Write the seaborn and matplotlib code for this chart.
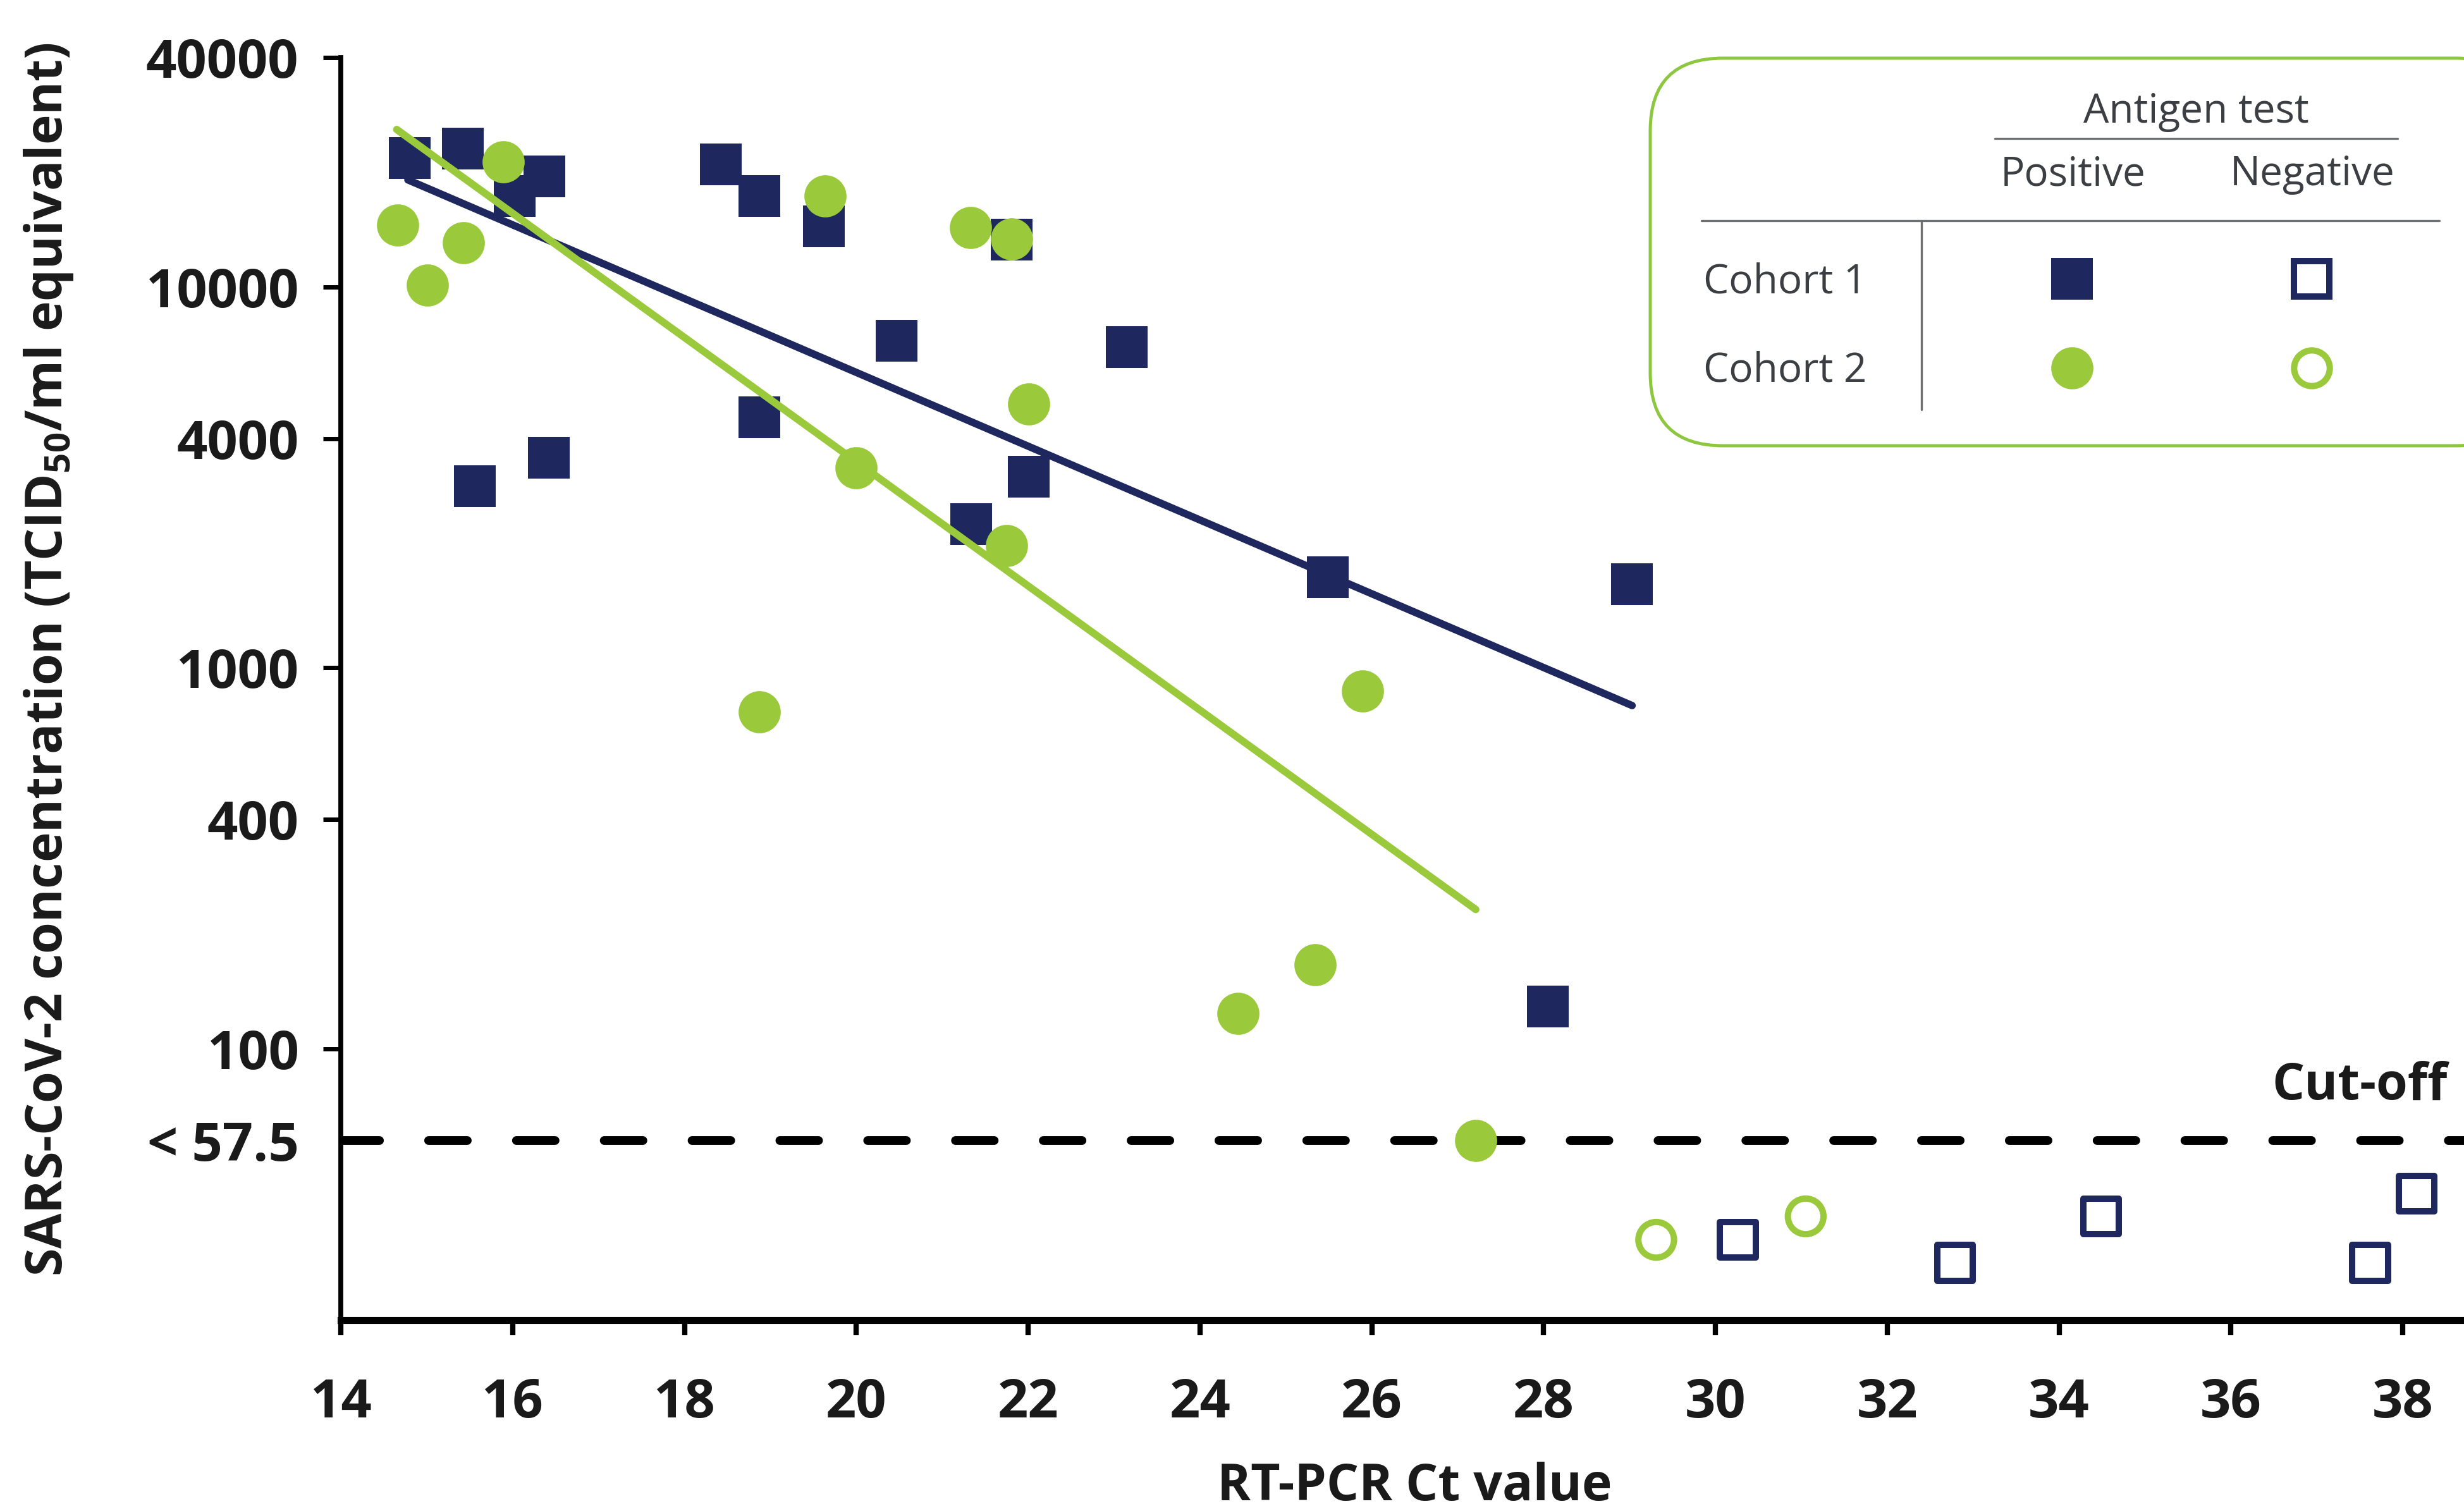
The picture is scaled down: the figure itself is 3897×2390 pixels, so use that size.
import numpy as np
import pandas as pd
import seaborn as sns
import matplotlib.pyplot as plt
from matplotlib.patches import FancyBboxPatch
from matplotlib.lines import Line2D
from matplotlib.ticker import NullLocator

# Cohort 1 (antigen test positive / negative)
c1_pos_ct = [14.80, 15.42, 16.02, 16.37, 18.42, 18.87, 19.62, 21.81, 20.47, 23.15,
             18.87, 15.56, 16.42, 22.01, 21.34, 25.49, 29.03, 28.05]
c1_pos_conc = [21800, 23100, 17300, 19500, 21000, 17300, 14400, 13300, 7230, 6940,
               4550, 3000, 3560, 3180, 2380, 1730, 1660, 129]
c1_neg_ct = [30.26, 32.79, 34.49, 37.62, 38.16]
c1_neg_conc = [31.5, 27.4, 36.3, 27.4, 41.6]

# Cohort 2 (antigen test positive / negative)
c2_pos_ct = [14.66, 15.43, 15.01, 15.89, 19.64, 21.33, 21.81, 20.00, 22.01, 21.75,
             18.87, 25.89, 25.34, 24.44, 27.21]
c2_pos_conc = [14550, 13060, 10110, 21330, 17330, 14320, 13340, 3350, 4920, 2095,
               767, 869, 166, 124, 57.5]
c2_neg_ct = [29.31, 31.05]
c2_neg_conc = [31.5, 36.3]

# regression lines (end points)
fit1_ct = [14.78, 29.03]
fit1_conc = [19100, 796]
fit2_ct = [14.65, 27.21]
fit2_conc = [25900, 232]

cutoff = 57.5
x_ticks = list(range(14, 39, 2))
y_ticks = [57.5, 100, 400, 1000, 4000, 10000, 40000]
y_labels = ['< 57.5', '100', '400', '1000', '4000', '10000', '40000']

navy = '#1e285e'
green = '#9aca3c'
box_green = '#8dc63f'
ink = '#1a1a1a'
grey_text = '#3b3e42'
rule = '#6d6e70'

sns.set_style('ticks')
plt.rcParams['font.family'] = ['Open Sans', 'DejaVu Sans']
plt.rcParams['mathtext.default'] = 'regular'

fig = plt.figure(figsize=(19.49, 11.95), dpi=200)
ax = fig.add_axes([0.1383, 0.1264, 0.8617, 0.8355])
ax.set_yscale('log')

sns.lineplot(x=fit1_ct, y=fit1_conc, ax=ax, color=navy, lw=4.2,
             solid_capstyle='round', zorder=2, errorbar=None)
sns.scatterplot(x=c1_pos_ct, y=c1_pos_conc, ax=ax, marker='s', s=24 ** 2,
                color=navy, linewidth=0, zorder=3)
sns.scatterplot(x=c1_neg_ct, y=c1_neg_conc, ax=ax, marker='s', s=20.3 ** 2,
                facecolor='none', edgecolor=navy, linewidth=3.6, zorder=3)
sns.lineplot(x=fit2_ct, y=fit2_conc, ax=ax, color=green, lw=4.2,
             solid_capstyle='round', zorder=4, errorbar=None)
sns.scatterplot(x=c2_pos_ct, y=c2_pos_conc, ax=ax, marker='o', s=24 ** 2,
                color=green, linewidth=0, zorder=5)
sns.scatterplot(x=c2_neg_ct, y=c2_neg_conc, ax=ax, marker='o', s=20.3 ** 2,
                facecolor='none', edgecolor=green, linewidth=3.6, zorder=5)

ax.axhline(cutoff, color='black', lw=5, dashes=(4.4, 5.6),
           dash_capstyle='round', zorder=1)
ax.text(0.992, 1.19 * cutoff, 'Cut-off', transform=ax.get_yaxis_transform(),
        ha='right', va='bottom', fontsize=29, fontweight='bold', color=ink)

ax.set_xlim(14, 38.72)
ax.set_ylim(19.4, 40000)
ax.set_xticks(x_ticks)
ax.set_xticklabels([str(t) for t in x_ticks], fontweight='bold')
ax.set_yticks(y_ticks)
ax.set_yticklabels(y_labels, fontweight='bold')
ax.yaxis.set_minor_locator(NullLocator())
ax.yaxis.get_major_ticks()[0].tick1line.set_visible(False)

ax.tick_params(axis='y', length=10, width=2.5, pad=14, labelsize=30.5,
               color='black', labelcolor=ink)
ax.tick_params(axis='x', length=8.5, width=3, pad=24, labelsize=30.5,
               color='black', labelcolor=ink)

ax.spines[['top', 'right']].set_visible(False)
ax.spines['left'].set_linewidth(2.8)
ax.spines['bottom'].set_linewidth(4)
ax.spines['left'].set_color('black')
ax.spines['bottom'].set_color('black')

ax.set_xlabel('RT-PCR Ct value', fontsize=29, fontweight='bold', color=ink)
ax.set_ylabel('SARS-CoV-2 concentration (TCID$_{50}$/ml equivalent)',
              fontsize=29, fontweight='bold', color=ink)
ax.xaxis.set_label_coords(0.5055, -0.112)
ax.yaxis.set_label_coords(-0.125, 0.523)

# legend table
box = FancyBboxPatch((13.05, 8.425), 6.95, 3.065,
                     boxstyle='round,pad=0,rounding_size=0.575',
                     transform=fig.dpi_scale_trans, facecolor='white',
                     edgecolor=box_green, lw=1.8, zorder=10)
fig.patches.append(box)

W, H = 3898, 2390


def fx(px):
    return px / W


def fy(py):
    return 1 - py / H


leg_font = dict(fontsize=23, color=grey_text, zorder=11)
fig.text(fx(3473), fy(194), 'Antigen test', ha='center', va='baseline', **leg_font)
fig.text(fx(3279), fy(293), 'Positive', ha='center', va='baseline', **leg_font)
fig.text(fx(3657), fy(293), 'Negative', ha='center', va='baseline', **leg_font)
fig.text(fx(2694), fy(464), 'Cohort 1', ha='left', va='baseline', **leg_font)
fig.text(fx(2694), fy(604), 'Cohort 2', ha='left', va='baseline', **leg_font)

for xs, ys in [((3155, 3792), (219, 219)), ((2691, 3858), (349, 349)),
               ((3039, 3039), (349, 648))]:
    fig.lines.append(Line2D([fx(v) for v in xs], [fy(v) for v in ys],
                            transform=fig.transFigure, color=rule, lw=1.2,
                            zorder=11))

legend_marks = [
    (3277, 441, 's', navy, navy, 24, 0),
    (3656, 441, 's', 'none', navy, 20.3, 3.6),
    (3277, 582, 'o', green, green, 24, 0),
    (3656, 582, 'o', 'none', green, 20.3, 3.6),
]
for px, py, mk, fc, ec, ms, mew in legend_marks:
    fig.lines.append(Line2D([fx(px)], [fy(py)], transform=fig.transFigure,
                            marker=mk, markersize=ms, markerfacecolor=fc,
                            markeredgecolor=ec, markeredgewidth=mew,
                            linestyle='none', zorder=12))

fig.savefig('out.png', dpi=200)
